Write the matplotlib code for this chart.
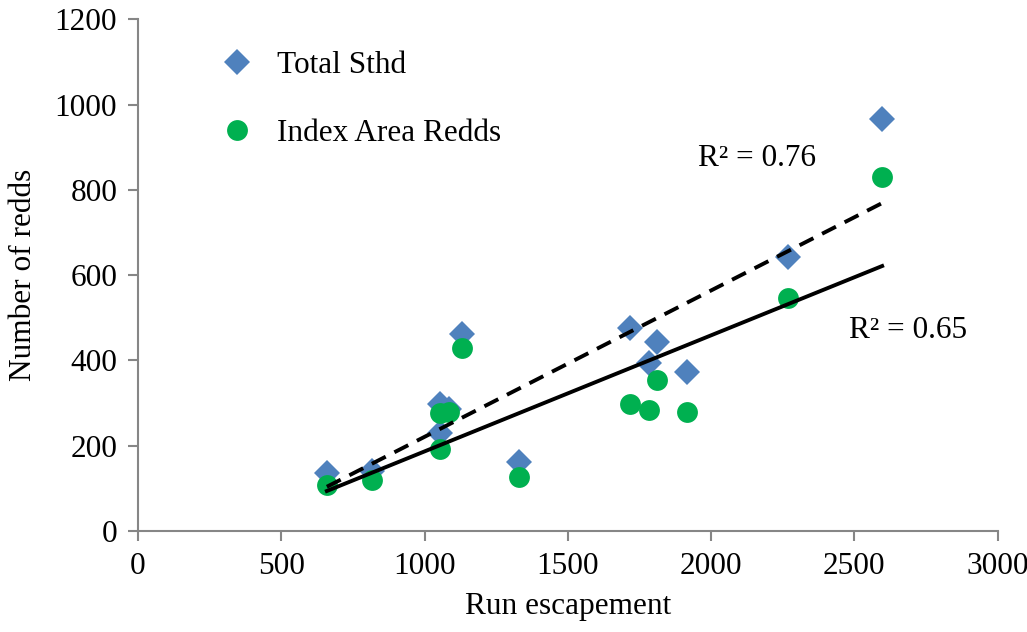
import numpy as np
import matplotlib.pyplot as plt

# values
run_esc = [659, 818, 1055, 1087, 1055, 1130, 1328, 1717, 1784, 1812, 1917, 2268, 2597]
total_sthd = [137, 140, 298, 286, 229, 462, 163, 477, 393, 444, 372, 643, 966]
index_redds = [107, 120, 192, 279, 276, 429, 126, 297, 285, 355, 280, 547, 830]
r2_labels = ['R² = 0.76', 'R² = 0.65']

plt.rcParams['font.family'] = ['Liberation Serif', 'DejaVu Serif']
fs = 22.5

fig = plt.figure(figsize=(10.27, 6.32), dpi=100)
ax = fig.add_axes([0.1344, 0.1598, 0.837, 0.8094])

ax.plot(run_esc, total_sthd, 'D', color='#4F81BD', ms=13, mew=0, label='Total Sthd', zorder=3)
ax.plot(run_esc, index_redds, 'o', color='#00B050', ms=15, mew=0, label='Index Area Redds', zorder=3)

# linear trendlines
xs = np.array([min(run_esc), max(run_esc)])
p1 = np.polyfit(run_esc, total_sthd, 1)
p2 = np.polyfit(run_esc, index_redds, 1)
ax.plot(xs, np.polyval(p1, xs), color='black', lw=2.8, ls=(0, (4, 2.5)), zorder=4)
ax.plot(xs, np.polyval(p2, xs), color='black', lw=2.8, zorder=4)

ax.text(1956, 875, r2_labels[0], fontsize=fs, va='center')
ax.text(2480, 471, r2_labels[1], fontsize=fs, va='center')

ax.set_xlim(0, 3000)
ax.set_ylim(0, 1200)
ax.set_xticks(range(0, 3001, 500))
ax.set_yticks(range(0, 1201, 200))
ax.tick_params(labelsize=fs, colors='black', length=7, width=1.5, direction='out', pad=8)
ax.tick_params(axis='both', color='#868686')
for s in ['top', 'right']:
    ax.spines[s].set_visible(False)
for s in ['left', 'bottom']:
    ax.spines[s].set_color('#868686')
    ax.spines[s].set_linewidth(1.5)

ax.set_xlabel('Run escapement', fontsize=fs, labelpad=8)
ax.set_ylabel('Number of redds', fontsize=fs, labelpad=12)

ax.legend(loc='upper left', bbox_to_anchor=(0.053, 0.993), frameon=False, fontsize=fs,
          labelspacing=1.25, handletextpad=0.5, handlelength=1.6)

fig.savefig('out.png', dpi=100)
